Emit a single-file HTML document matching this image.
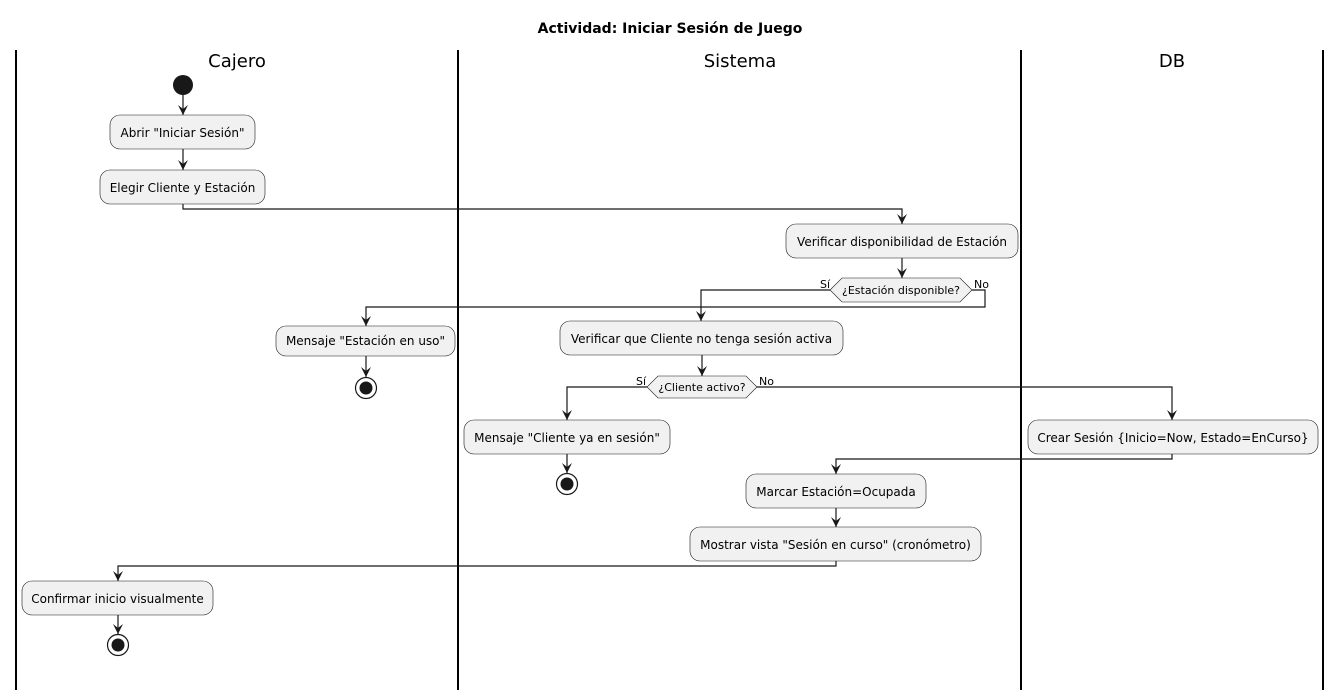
<!DOCTYPE html>
<html><head><meta charset="utf-8"><style>
body{margin:0;background:#fff}
svg{display:block}
text{font-family:"DejaVu Sans","Liberation Sans",sans-serif;fill:#000}
.b{fill:#f1f1f1;stroke:#181818;stroke-width:.6}
.l{stroke:#181818;stroke-width:1.2;fill:none}
.a{fill:#181818}
.t{font-size:12px}
</style></head><body>
<svg width="1341" height="700" viewBox="0 0 1341 700" xmlns="http://www.w3.org/2000/svg">
<defs><marker id="m" viewBox="0 0 12 12" refX="10" refY="6" markerWidth="12" markerHeight="12" markerUnits="userSpaceOnUse" orient="auto"><path d="M0,1 L10,6 L0,11 L4,6 Z" fill="#181818"/></marker></defs>
<text x="670" y="33" text-anchor="middle" font-size="14" font-weight="bold">Actividad: Iniciar Sesión de Juego</text>
<g stroke="#000" stroke-width="2"><line x1="16" y1="50" x2="16" y2="690"/><line x1="458" y1="50" x2="458" y2="690"/><line x1="1021" y1="50" x2="1021" y2="690"/><line x1="1323" y1="50" x2="1323" y2="690"/></g>
<text x="237" y="67" text-anchor="middle" font-size="18">Cajero</text>
<text x="740" y="67" text-anchor="middle" font-size="18">Sistema</text>
<text x="1172" y="67" text-anchor="middle" font-size="18">DB</text>
<circle cx="183" cy="85" r="10" class="a"/>
<path class="l" d="M183,95 V115" marker-end="url(#m)"/>
<rect class="b" x="110" y="115" width="145" height="34" rx="10"/>
<text class="t" x="182.5" y="137" text-anchor="middle">Abrir "Iniciar Sesión"</text>
<path class="l" d="M183,149 V170" marker-end="url(#m)"/>
<rect class="b" x="100" y="170" width="165" height="34" rx="10"/>
<text class="t" x="182.5" y="192" text-anchor="middle">Elegir Cliente y Estación</text>
<path class="l" d="M183,204 V209 H902 V224" marker-end="url(#m)"/>
<rect class="b" x="786" y="224" width="232" height="34" rx="10"/>
<text class="t" x="902" y="246" text-anchor="middle">Verificar disponibilidad de Estación</text>
<path class="l" d="M902,258 V278" marker-end="url(#m)"/>
<path class="b" d="M842,278 H960 L972,290 L960,302 H842 L830,290 Z"/>
<text x="901" y="294" text-anchor="middle" font-size="11">¿Estación disponible?</text>
<text x="820" y="288" font-size="11">Sí</text><text x="974" y="288" font-size="11">No</text>
<path class="l" d="M830,290 H701 V321" marker-end="url(#m)"/>
<path class="l" d="M972,290 H985 V307 H366 V326" marker-end="url(#m)"/>
<rect class="b" x="276" y="326" width="179" height="30" rx="10"/>
<text class="t" x="365.5" y="345" text-anchor="middle">Mensaje "Estación en uso"</text>
<path class="l" d="M366,356 V377" marker-end="url(#m)"/>
<circle cx="366" cy="388" r="10.5" fill="#fff" stroke="#181818" stroke-width="1.2"/><circle cx="366" cy="388" r="6.5" class="a"/>
<rect class="b" x="560" y="321" width="283" height="34" rx="10"/>
<text class="t" x="701.5" y="343" text-anchor="middle">Verificar que Cliente no tenga sesión activa</text>
<path class="l" d="M702,355 V376" marker-end="url(#m)"/>
<path class="b" d="M658,376 H746 L757,387 L746,398 H658 L647,387 Z"/>
<text x="702" y="391" text-anchor="middle" font-size="11">¿Cliente activo?</text>
<text x="636" y="385" font-size="11">Sí</text><text x="759" y="385" font-size="11">No</text>
<path class="l" d="M647,387 H567 V420" marker-end="url(#m)"/>
<path class="l" d="M757,387 H1172 V420" marker-end="url(#m)"/>
<rect class="b" x="464" y="420" width="206" height="34" rx="10"/>
<text class="t" x="567" y="442" text-anchor="middle">Mensaje "Cliente ya en sesión"</text>
<path class="l" d="M567,454 V473" marker-end="url(#m)"/>
<circle cx="567" cy="484" r="10.5" fill="#fff" stroke="#181818" stroke-width="1.2"/><circle cx="567" cy="484" r="6.5" class="a"/>
<rect class="b" x="1028" y="420" width="290" height="34" rx="10"/>
<text class="t" x="1173" y="442" text-anchor="middle">Crear Sesión {Inicio=Now, Estado=EnCurso}</text>
<path class="l" d="M1172,454 V459 H836 V474" marker-end="url(#m)"/>
<rect class="b" x="746" y="474" width="180" height="34" rx="10"/>
<text class="t" x="836" y="496" text-anchor="middle">Marcar Estación=Ocupada</text>
<path class="l" d="M836,508 V527" marker-end="url(#m)"/>
<rect class="b" x="690" y="527" width="291" height="34" rx="10"/>
<text class="t" x="835.5" y="549" text-anchor="middle">Mostrar vista "Sesión en curso" (cronómetro)</text>
<path class="l" d="M836,561 V566 H118 V581" marker-end="url(#m)"/>
<rect class="b" x="22" y="581" width="191" height="34" rx="10"/>
<text class="t" x="117.5" y="603" text-anchor="middle">Confirmar inicio visualmente</text>
<path class="l" d="M118,615 V634" marker-end="url(#m)"/>
<circle cx="118" cy="645" r="10.5" fill="#fff" stroke="#181818" stroke-width="1.2"/><circle cx="118" cy="645" r="6.5" class="a"/>
</svg>
</body></html>
